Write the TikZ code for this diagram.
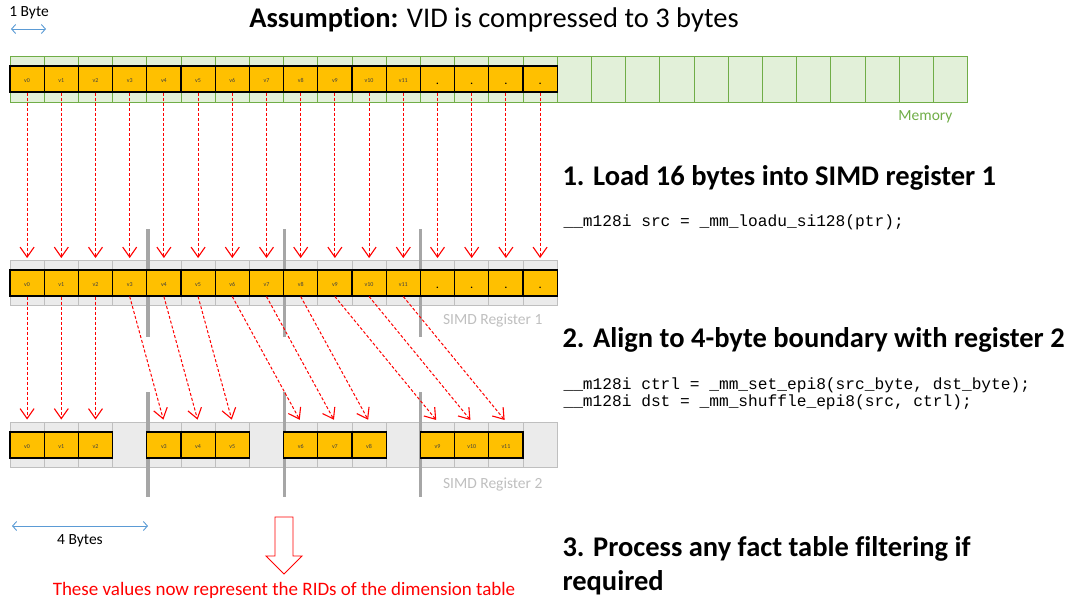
\documentclass[tikz,border=0pt]{standalone}
\usepackage{fontspec}
\setmainfont{Carlito}[Ligatures=NoCommon]
\setmonofont{Liberation Mono}
\usetikzlibrary{arrows.meta}

\definecolor{cellyellow}{HTML}{FFC000}
\definecolor{memfill}{HTML}{E2F0D9}
\definecolor{memline}{HTML}{70AD47}
\definecolor{regfill}{HTML}{EBEBEB}
\definecolor{regline}{HTML}{BFBFBF}
\definecolor{barcol}{HTML}{A6A6A6}
\definecolor{bytearrow}{HTML}{5B9BD5}
\definecolor{movered}{HTML}{FF0000}
\definecolor{reglabel}{HTML}{BFBFBF}

\begin{document}
\begin{tikzpicture}[x=1pt,y=-1pt,
  memcell/.style={draw=memline, fill=memfill, line width=0.9pt,
    minimum width=34.2pt, minimum height=46pt, inner sep=0pt},
  regcell/.style={draw=regline, fill=regfill, line width=0.9pt,
    minimum width=34.2pt, minimum height=45pt, inner sep=0pt},
  valcell/.style={draw=black, fill=cellyellow, line width=1.1pt,
    minimum width=34.2pt, minimum height=26pt, inner sep=0pt,
    text height=6pt, text depth=0pt,
    font=\fontsize{6}{7}\selectfont, text=black!75},
  dotcell/.style={valcell, text height=10pt, font=\fontsize{10}{10}\selectfont\bfseries, text=black},
  move/.style={draw=movered, dashed, dash pattern=on 3pt off 2pt, line width=1pt,
    shorten >=2pt, -{Straight Barb[length=10pt,width=14pt,line width=1.1pt]}},
  boundary/.style={draw=barcol, line width=3.3pt},
  span/.style={draw=bytearrow, line width=0.9pt,
    {Straight Barb[length=4pt,width=9pt]}-{Straight Barb[length=4pt,width=9pt]}},
  heading/.style={anchor=west, font=\fontsize{28.5}{34}\selectfont\bfseries, align=left},
  code/.style={anchor=west, font=\fontsize{16.2}{17}\ttfamily, align=left},
  small/.style={font=\fontsize{15.5}{17}\selectfont},
]
\useasboundingbox (0,0) rectangle (1069,600);

% title
\node[font=\fontsize{28.5}{32}\selectfont] (title) at (494,20)
  {\textbf{Assumption:} VID is compressed to 3 bytes};

% byte width legend
\coordinate (b1l) at (11,29);
\coordinate (b1r) at (46,29);
\draw[span] (b1l) -- (b1r);
\node[small, anchor=south] (onebyte) at (29,23) {1 Byte};

% memory row
\foreach \i in {0,...,27}
  \node[memcell] (mem\i) at ({10+34.2*(\i+0.5)},79) {};
\foreach \i in {0,...,11}
  \node[valcell] (mv\i) at ({10+34.2*(\i+0.5)},79) {v\i};
\foreach \i in {12,...,15}
  \node[dotcell] (mv\i) at ({10+34.2*(\i+0.5)},79) {.};
\node[small, anchor=east, text=memline] (memlabel) at (956,117) {Memory};

% SIMD register 1
\foreach \i in {0,...,15}
  \node[regcell] (ra\i) at ({10+34.2*(\i+0.5)},283) {};
\foreach \x in {148,284.5,420.5}
  \draw[boundary] (\x,229) -- (\x,337);
\foreach \i in {0,...,11}
  \node[valcell] (rv\i) at ({10+34.2*(\i+0.5)},283) {v\i};
\foreach \i in {12,...,15}
  \node[dotcell] (rv\i) at ({10+34.2*(\i+0.5)},283) {.};
\node[small, anchor=east, text=reglabel] (reg1label) at (546,320) {SIMD Register 1};

% SIMD register 2
\foreach \i in {0,...,15}
  \node[regcell] (rb\i) at ({10+34.2*(\i+0.5)},444.5) {};
\foreach \x in {148,284.5,420.5}
  \draw[boundary] (\x,392) -- (\x,497);
\foreach \i in {0,...,11} {
  \pgfmathtruncatemacro\d{\i+int(\i/3)}
  \node[valcell] (ov\i) at ({10+34.2*(\d+0.5)},445) {v\i};
}
\node[small, anchor=east, text=reglabel] (reg2label) at (546,484) {SIMD Register 2};

% load: memory bytes into register 1
\foreach \i in {0,...,15}
  \draw[move] (mv\i.south) -- (ra\i.north);

% shuffle: three bytes per 4-byte lane
\foreach \i in {0,...,11} {
  \pgfmathtruncatemacro\d{\i+int(\i/3)}
  \draw[move] (rv\i.south) -- (rb\d.north);
}

% lane width legend
\coordinate (b4l) at (12,526);
\coordinate (b4r) at (148,526);
\draw[span] (b4l) -- (b4r);
\node[small] (fourbytes) at (80,541) {4 Bytes};

% hollow result arrow
\draw[draw=movered, fill=white, line width=0.9pt, line join=miter]
  (275,517) -- (293,517) -- (293,556) -- (302,556) -- (284,574)
  -- (266,556) -- (275,556) -- cycle;
\node[font=\fontsize{19}{21}\selectfont, text=movered] (result) at (284,590)
  {These values now represent the RIDs of the dimension table};

% steps
\node[heading] (step1) at (559,178) {1. Load 16 bytes into SIMD register 1};
\node[code] (code1) at (560,222) {\_\_m128i src = \_mm\_loadu\_si128(ptr);};
\node[heading] (step2) at (559,340) {2. Align to 4-byte boundary with register 2};
\node[code] (code2) at (560,394)
  {\_\_m128i ctrl = \_mm\_set\_epi8(src\_byte, dst\_byte);\\
   \_\_m128i dst = \_mm\_shuffle\_epi8(src, ctrl);};
\node[heading] (step3) at (559,566)
  {3. Process any fact table filtering if\\required};
\end{tikzpicture}
\end{document}
